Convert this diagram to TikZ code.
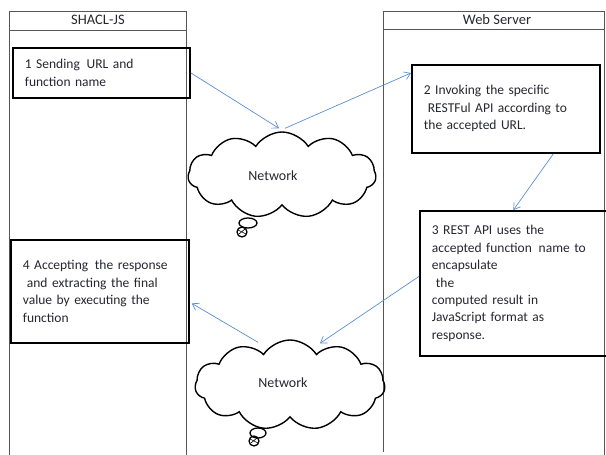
\documentclass[tikz,border=0pt]{standalone}
\usepackage{fontspec}
\setmainfont{Carlito}
\usetikzlibrary{shapes.symbols,arrows.meta,calc}
\definecolor{arrowblue}{HTML}{5B8FD0}
\definecolor{lanegray}{HTML}{555555}
\definecolor{txt}{HTML}{262630}
\tikzset{
  lane/.style={draw=lanegray,line width=0.8pt},
  stepbox/.style={draw=black,line width=1.8pt,rectangle,align=left,inner xsep=12pt,inner ysep=0pt,anchor=north west,text=txt,font=\fontsize{13.5}{17.5}\selectfont},
  netcloud/.style={cloud,draw=black,line width=1.4pt,cloud puffs=11,cloud puff arc=115,aspect=2.2,inner sep=0pt},
  flow/.style={draw=arrowblue,line width=0.7pt,-{Straight Barb[length=6pt,width=8pt]}},
  lbl/.style={text=txt,font=\fontsize{14}{16}\selectfont}
}
\begin{document}
\begin{tikzpicture}[x=1pt,y=-1pt]
\useasboundingbox (0,0) rectangle (606,455);
% lanes
\draw[lane] (9,455) -- (9,11) -- (186,11) -- (186,455);
\draw[lane] (9,30) -- (186,30);
\draw[lane] (383,452) -- (383,11) -- (604,11) -- (604,455);
\draw[lane] (383,29) -- (604,29);
\node[lbl,font=\fontsize{14.5}{16}\selectfont] (h1) at (98,20) {SHACL-JS};
\node[lbl,font=\fontsize{14.5}{16}\selectfont] (h2) at (497,20) {Web Server};
% boxes
\node[stepbox,text width=153pt,minimum height=50pt] (b1) at (12,47) {1 Sending\, URL and\\function name};
\node[stepbox,text width=164pt,minimum height=88pt] (b2) at (411,64) {2 Invoking the specific\\\hspace{4pt}RESTFul API according to\\the accepted URL.};
\node[stepbox,text width=163pt,minimum height=145pt] (b3) at (419,210) {3 REST API uses the\\accepted function\, name to\\encapsulate\\\hspace{4pt}the\\computed result in\\JavaScript format as\\response.};
\node[stepbox,text width=154pt,minimum height=103pt] (b4) at (10,239) {4 Accepting\, the response\\\hspace{4pt}and extracting the final\\value by executing the\\function};
% clouds
\node[netcloud,minimum width=188pt,minimum height=86pt] (c1) at (282,175) {};
\node[lbl] (n1) at (273,176) {Network};
\draw[line width=1.3pt] (248,223) ellipse (9 and 5);
\draw[line width=1.3pt] (242,232) circle (5);
\draw[line width=0.6pt] (238,230) -- (246,234) (239,234) -- (245,229);
\node[netcloud,minimum width=190pt,minimum height=90pt] (c2) at (290,385) {};
\node[lbl] (n2) at (283,383) {Network};
\draw[line width=1.3pt] (258,433) ellipse (8 and 5);
\draw[line width=1.3pt] (254,441) circle (5);
\draw[line width=0.6pt] (250,439) -- (258,443) (251,443) -- (257,438);
% flows
\draw[flow] (b1.east) -- ($(c1.north)+(-3,-3)$);
\draw[flow] ($(c1.north)+(3,-3)$) -- ($(b2.north west)+(0,9)$);
\draw[flow] ($(b2.south)!0.5!(b2.south east)$) -- (b3.north);
\draw[flow] ($(b3.west)+(0,-7)$) -- ($(c2.north)+(30,4)$);
\draw[flow] ($(c2.north)+(-32,3)$) -- ($(b4.east)+(2,12)$);
\end{tikzpicture}
\end{document}
